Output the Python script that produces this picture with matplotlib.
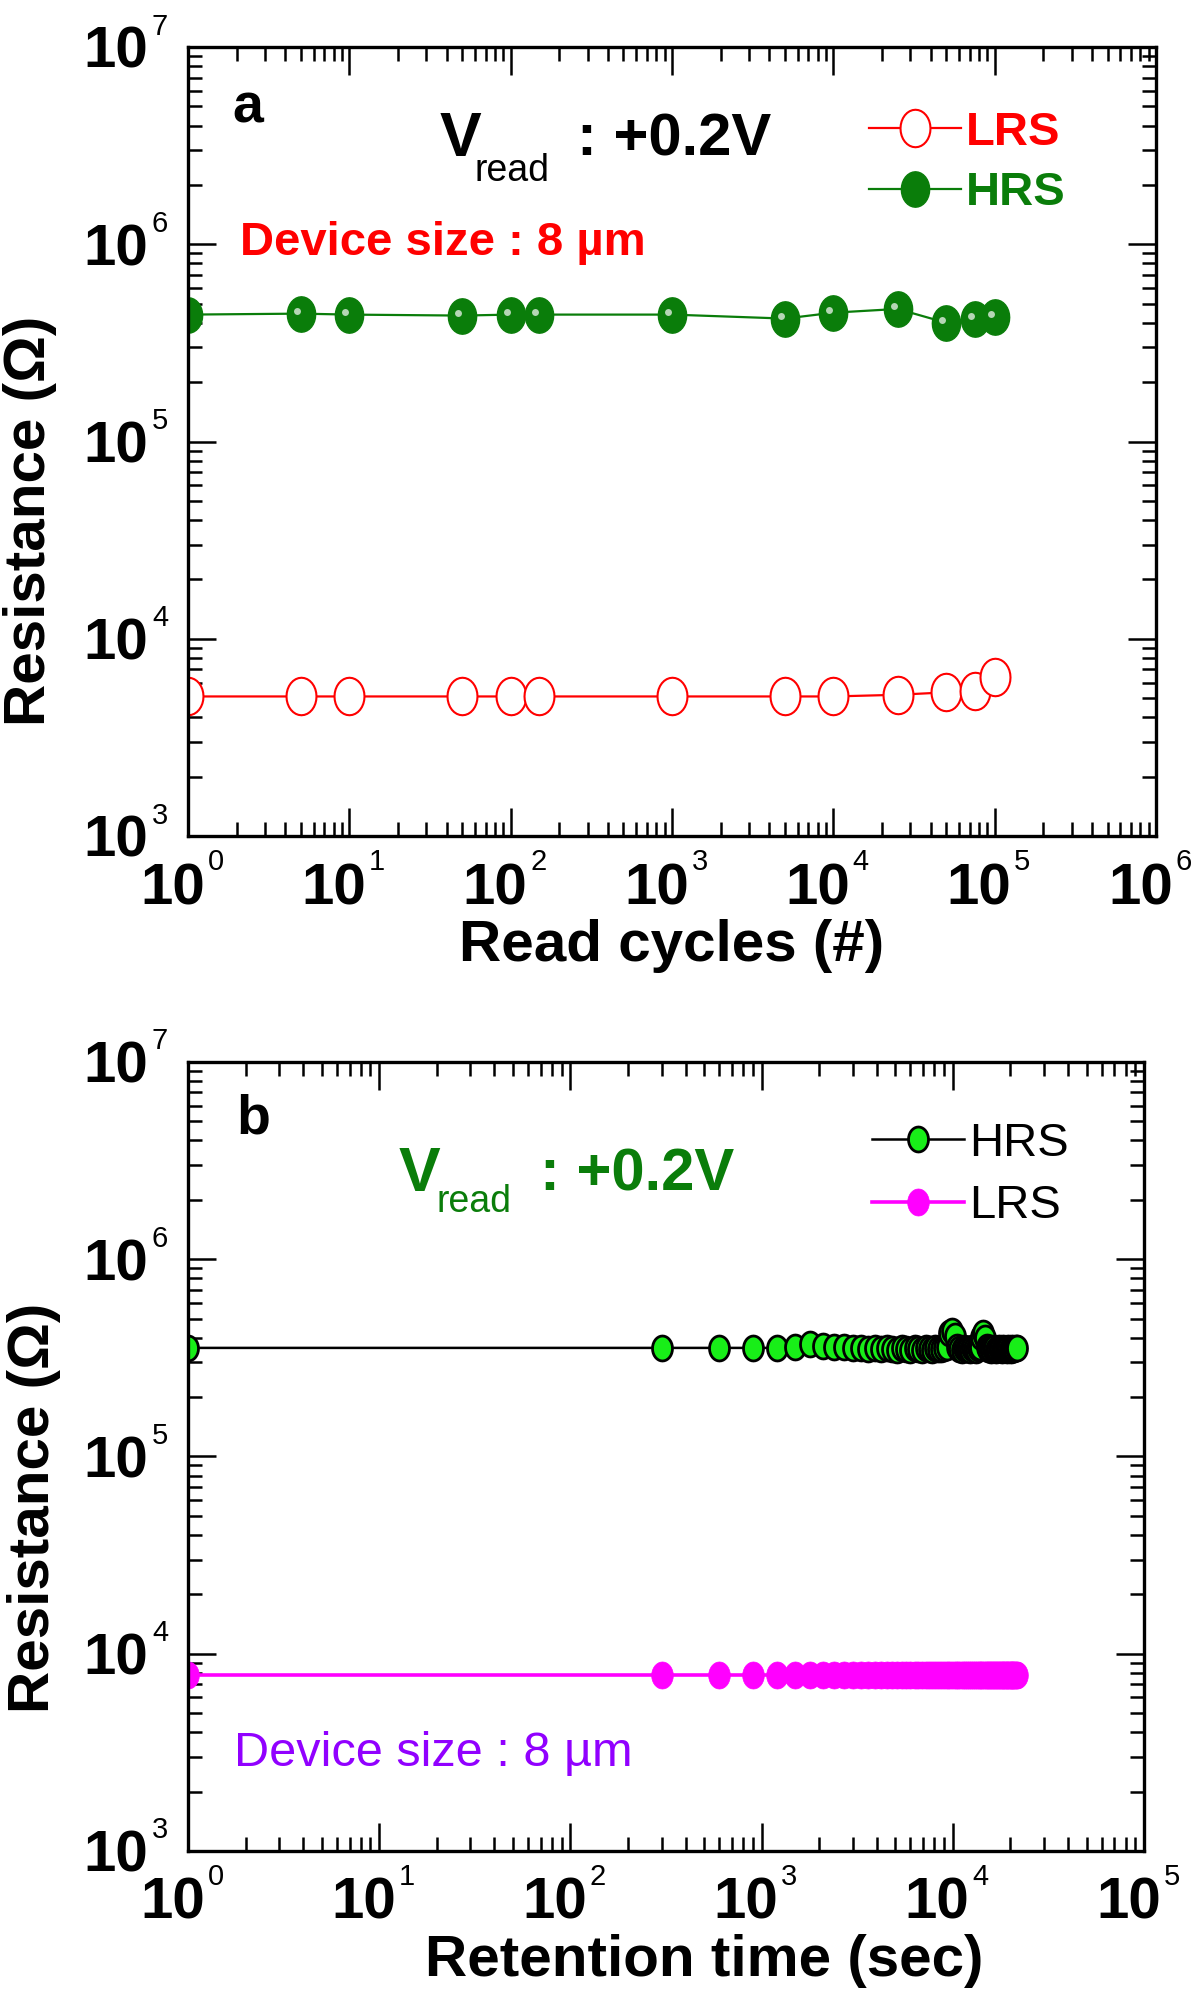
import numpy as np
import matplotlib
matplotlib.use('Agg')
import matplotlib.pyplot as plt
from matplotlib.path import Path
from matplotlib.ticker import LogLocator
from matplotlib.transforms import offset_copy

plt.rcParams['font.family'] = ['Liberation Sans', 'DejaVu Sans']

# (a) read endurance
cycles = [1, 5, 10, 50, 100, 150, 1000, 5000, 10000, 25000, 50000, 75000, 100000]
lrs_a = [5100, 5100, 5100, 5100, 5100, 5100, 5100, 5100, 5100, 5200, 5350, 5450, 6400]
hrs_a = [4.4e5, 4.45e5, 4.4e5, 4.35e5, 4.4e5, 4.4e5, 4.4e5, 4.2e5, 4.5e5, 4.7e5, 4.0e5, 4.2e5, 4.3e5]

# (b) retention
ret_time = [1, 300, 600, 900, 1200, 1500, 1800, 2100, 2400, 2700,
            3000, 3300, 3600, 3900, 4200, 4500, 4800, 5100, 5400, 5700,
            6000, 6300, 6600, 6900, 7200, 7500, 7800, 8100, 8400, 8700,
            9000, 9300, 9600, 9900, 10200, 10500, 10800, 11100, 11400, 11700,
            12000, 12300, 12600, 12900, 13200, 13500, 13800, 14100, 14400, 14700,
            15000, 15300, 15600, 15900, 16200, 16500, 16800, 17100, 17400, 17700,
            18000, 18300, 18600, 18900, 19200, 19500, 19800, 20100, 20400, 20700,
            21000, 21300, 21600]
hrs_b = [3.55e5, 3.55e5, 3.55e5, 3.55e5, 3.55e5, 3.6e5, 3.7e5, 3.65e5, 3.6e5, 3.6e5,
         3.55e5, 3.55e5, 3.5e5, 3.55e5, 3.5e5, 3.55e5, 3.5e5, 3.45e5, 3.55e5, 3.5e5,
         3.45e5, 3.55e5, 3.5e5, 3.45e5, 3.55e5, 3.5e5, 3.45e5, 3.55e5, 3.5e5, 3.5e5,
         3.55e5, 3.6e5, 4.2e5, 4.3e5, 4.1e5, 3.6e5, 3.5e5, 3.45e5, 3.55e5, 3.5e5,
         3.5e5, 3.45e5, 3.55e5, 3.5e5, 3.45e5, 3.55e5, 3.6e5, 4.05e5, 4.2e5, 4.0e5,
         3.6e5, 3.5e5, 3.55e5, 3.45e5, 3.5e5, 3.55e5, 3.45e5, 3.5e5, 3.55e5, 3.5e5,
         3.45e5, 3.55e5, 3.5e5, 3.5e5, 3.45e5, 3.55e5, 3.5e5, 3.45e5, 3.55e5, 3.5e5,
         3.5e5, 3.55e5, 3.55e5]
lrs_b = [7.8e3, 7.8e3, 7.8e3, 7.8e3, 7.8e3, 7.8e3, 7.8e3, 7.8e3, 7.8e3, 7.8e3,
         7.8e3, 7.8e3, 7.8e3, 7.8e3, 7.8e3, 7.8e3, 7.8e3, 7.8e3, 7.8e3, 7.8e3,
         7.8e3, 7.8e3, 7.8e3, 7.8e3, 7.8e3, 7.8e3, 7.8e3, 7.8e3, 7.8e3, 7.8e3,
         7.8e3, 7.8e3, 7.8e3, 7.8e3, 7.8e3, 7.8e3, 7.8e3, 7.8e3, 7.8e3, 7.8e3,
         7.8e3, 7.8e3, 7.8e3, 7.8e3, 7.8e3, 7.8e3, 7.8e3, 7.8e3, 7.8e3, 7.8e3,
         7.8e3, 7.8e3, 7.8e3, 7.8e3, 7.8e3, 7.8e3, 7.8e3, 7.8e3, 7.8e3, 7.8e3,
         7.8e3, 7.8e3, 7.8e3, 7.8e3, 7.8e3, 7.8e3, 7.8e3, 7.8e3, 7.8e3, 7.8e3,
         7.8e3, 7.8e3, 7.8e3]

# slightly tall oval marker, like the stretched scan
t = np.linspace(0, 2 * np.pi, 33)
oval = Path(np.column_stack([0.8 * np.cos(t), np.sin(t)]), closed=True)

RED = '#ff0000'
DKGREEN = '#0a7d0a'
LIME = '#18ee18'
MAGENTA = '#ff00ff'
VIOLET = '#9100ff'


def style_axes(ax, xdec):
    ax.set_xscale('log')
    ax.set_yscale('log')
    ax.set_xlim(1, 10.0 ** xdec)
    ax.set_ylim(1e3, 1e7)
    for axis in (ax.xaxis, ax.yaxis):
        axis.set_major_locator(LogLocator(base=10, numticks=20))
        axis.set_minor_locator(LogLocator(base=10, subs=np.arange(2, 10), numticks=20))
    ax.tick_params(which='both', direction='in', top=True, right=True, width=1.8,
                   labelbottom=False, labelleft=False)
    ax.tick_params(which='major', length=20)
    ax.tick_params(which='minor', length=10)
    for sp in ax.spines.values():
        sp.set_linewidth(2.4)
    # decade labels: bold "10" with a thin small exponent
    xt = ax.get_xaxis_transform()
    for k in range(0, xdec + 1):
        ax.annotate('10', xy=(10.0 ** k, 0), xycoords=xt, xytext=(12, -49),
                    textcoords='offset points', ha='right', va='baseline',
                    fontsize=42, fontweight='bold')
        ax.annotate(str(k), xy=(10.0 ** k, 0), xycoords=xt, xytext=(14, -24.5),
                    textcoords='offset points', ha='left', va='baseline', fontsize=21)
    yt = ax.get_yaxis_transform()
    for k in range(3, 8):
        ax.annotate('10', xy=(0, 10.0 ** k), xycoords=yt, xytext=(-29, -15),
                    textcoords='offset points', ha='right', va='baseline',
                    fontsize=42, fontweight='bold')
        ax.annotate(str(k), xy=(0, 10.0 ** k), xycoords=yt, xytext=(-26, 9),
                    textcoords='offset points', ha='left', va='baseline', fontsize=21)


fig = plt.figure(figsize=(12, 20.01), dpi=100)
ax1 = fig.add_axes([0.1567, 0.5822, 0.8067, 0.3943])
ax2 = fig.add_axes([0.1567, 0.0750, 0.7967, 0.3943])

# ---- panel a
style_axes(ax1, 6)
l_lrs, = ax1.plot(cycles, lrs_a, color=RED, lw=1.6, marker=oval, ms=27,
                  mfc='white', mec=RED, mew=1.5)
l_hrs, = ax1.plot(cycles, hrs_a, color=DKGREEN, lw=1.6, marker=oval, ms=25.5,
                  mfc=DKGREEN, mec=DKGREEN, mew=1.0)
hl = offset_copy(ax1.transData, fig=fig, x=-4, y=3, units='dots')
ax1.plot(cycles, hrs_a, ls='none', marker='o', ms=5, mfc='#b5d6b5', mec='none',
         transform=hl)
ax1.legend([l_lrs, l_hrs], ['LRS', 'HRS'], loc='upper left',
           bbox_to_anchor=(0.703, 0.919), frameon=False, borderpad=0,
           borderaxespad=0, handlelength=1.95, handletextpad=0.12,
           labelspacing=0.35, prop={'size': 34, 'weight': 'bold'},
           labelcolor='linecolor')

ax1.text(0.046, 0.904, 'a', transform=ax1.transAxes, fontsize=40, fontweight='bold')
ax1.text(0.26, 0.862, 'V', transform=ax1.transAxes, fontsize=45, fontweight='bold')
ax1.text(0.296, 0.830, 'read', transform=ax1.transAxes, fontsize=27)
ax1.text(0.402, 0.862, ': +0.2V', transform=ax1.transAxes, fontsize=43, fontweight='bold')
ax1.text(0.054, 0.736, 'Device size : 8 µm', transform=ax1.transAxes, fontsize=34,
         fontweight='bold', color=RED)

ax1.set_xlabel('Read cycles (#)', fontsize=42, fontweight='bold')
ax1.xaxis.set_label_coords(0.5, -0.105)
ax1.set_ylabel('Resistance (Ω)', fontsize=42, fontweight='bold')
ax1.yaxis.set_label_coords(-0.135, 0.4)

# ---- panel b
style_axes(ax2, 5)
l_hrs2, = ax2.plot(ret_time, hrs_b, color='black', lw=1.8, marker=oval, ms=18,
                   mfc=LIME, mec='black', mew=2.0)
l_lrs2, = ax2.plot(ret_time, lrs_b, color=MAGENTA, lw=2.6, marker=oval, ms=19.5,
                   mfc=MAGENTA, mec=MAGENTA, mew=0.5)
ax2.legend([l_hrs2, l_lrs2], ['HRS', 'LRS'], loc='upper left',
           bbox_to_anchor=(0.715, 0.924), frameon=False, borderpad=0,
           borderaxespad=0, handlelength=1.95, handletextpad=0.12,
           labelspacing=0.39, prop={'size': 34}, labelcolor='black')

ax2.text(0.051, 0.909, 'b', transform=ax2.transAxes, fontsize=40, fontweight='bold')
ax2.text(0.22, 0.837, 'V', transform=ax2.transAxes, fontsize=45, fontweight='bold',
         color=DKGREEN)
ax2.text(0.2594, 0.81, 'read', transform=ax2.transAxes, fontsize=27, color=DKGREEN)
ax2.text(0.368, 0.837, ': +0.2V', transform=ax2.transAxes, fontsize=43,
         fontweight='bold', color=DKGREEN)
ax2.text(0.048, 0.108, 'Device size : 8 µm', transform=ax2.transAxes, fontsize=35,
         color=VIOLET)

ax2.set_xlabel('Retention time (sec)', fontsize=42, fontweight='bold')
ax2.xaxis.set_label_coords(0.54, -0.105)
ax2.set_ylabel('Resistance (Ω)', fontsize=42, fontweight='bold')
ax2.yaxis.set_label_coords(-0.133, 0.435)

fig.savefig('out.png', dpi=100, facecolor='white')
